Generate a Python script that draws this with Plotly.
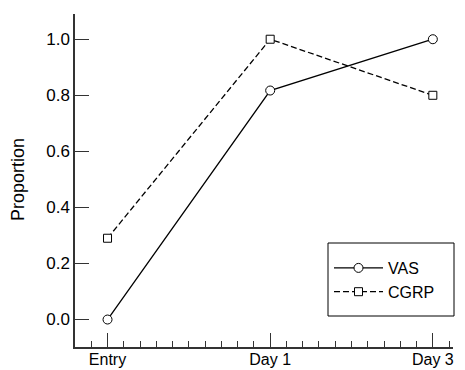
import plotly.graph_objects as go

categories = ["Entry", "Day 1", "Day 3"]
x_pos = [0, 1, 2]
vas = [0.0, 0.817, 1.0]
cgrp = [0.29, 1.0, 0.80]
y_ticks = [0.0, 0.2, 0.4, 0.6, 0.8, 1.0]

FONT = "Liberation Sans"
# page body has an 8px default margin; figure is sized so the plot area lands
# at screen x 75..453, y 14..347
OFF = 8
W, H = 465 - OFF, 370 - OFF
L, R, T, B = 75 - OFF, 12, 14 - OFF, 23
SL, ST = 75, 14
PW, PH = 378, 333


def px_x(p):
    return (p - SL) / PW


def px_y(p):
    return (ST + PH - p) / PH


fig = go.Figure()
fig.add_trace(go.Scatter(
    x=x_pos, y=vas, name="VAS", mode="lines+markers",
    line=dict(color="black", width=1.3),
    marker=dict(symbol="circle", size=9, color="white", line=dict(color="black", width=1)),
))
fig.add_trace(go.Scatter(
    x=x_pos, y=cgrp, name="CGRP", mode="lines+markers",
    line=dict(color="black", width=1.3, dash="6px,3px"),
    marker=dict(symbol="square", size=8, color="white", line=dict(color="black", width=1)),
))

fig.add_shape(type="rect", xref="paper", yref="paper",
              x0=px_x(328), x1=px_x(454), y0=px_y(316), y1=px_y(243),
              line=dict(color="black", width=1), fillcolor="rgba(0,0,0,0)", layer="above")

fig.add_annotation(text="Proportion", xref="paper", yref="paper",
                   x=px_x(18), y=px_y(180), textangle=-90, showarrow=False,
                   font=dict(size=18), xanchor="center", yanchor="middle")

fig.update_layout(
    width=W, height=H,
    margin=dict(l=L, r=R, t=T, b=B, autoexpand=False),
    paper_bgcolor="white", plot_bgcolor="white",
    font=dict(family=FONT, size=17, color="black"),
    legend=dict(
        x=px_x(329), xanchor="left", y=px_y(251), yanchor="top",
        borderwidth=0, bgcolor="rgba(0,0,0,0)",
        font=dict(size=16), itemwidth=49,
    ),
    xaxis=dict(
        range=[-0.2, 2.124], tickvals=x_pos, ticktext=categories,
        showline=True, linecolor="#333", linewidth=1.5,
        ticks="inside", ticklen=14, tickcolor="#333", tickwidth=1.2,
        ticklabelstandoff=-3, tickfont=dict(size=16),
        minor=dict(ticks="inside", ticklen=6, dtick=0.1, tick0=0, tickcolor="#333", tickwidth=1),
        showgrid=False, zeroline=False, automargin=False,
    ),
    yaxis=dict(
        range=[-0.098, 1.09], tickvals=y_ticks, tickformat=".1f",
        showline=True, linecolor="#333", linewidth=1.5,
        ticks="inside", ticklen=14, tickcolor="#333", tickwidth=1.2,
        showgrid=False, zeroline=False, automargin=False,
    ),
)

fig.write_html("out.html")
